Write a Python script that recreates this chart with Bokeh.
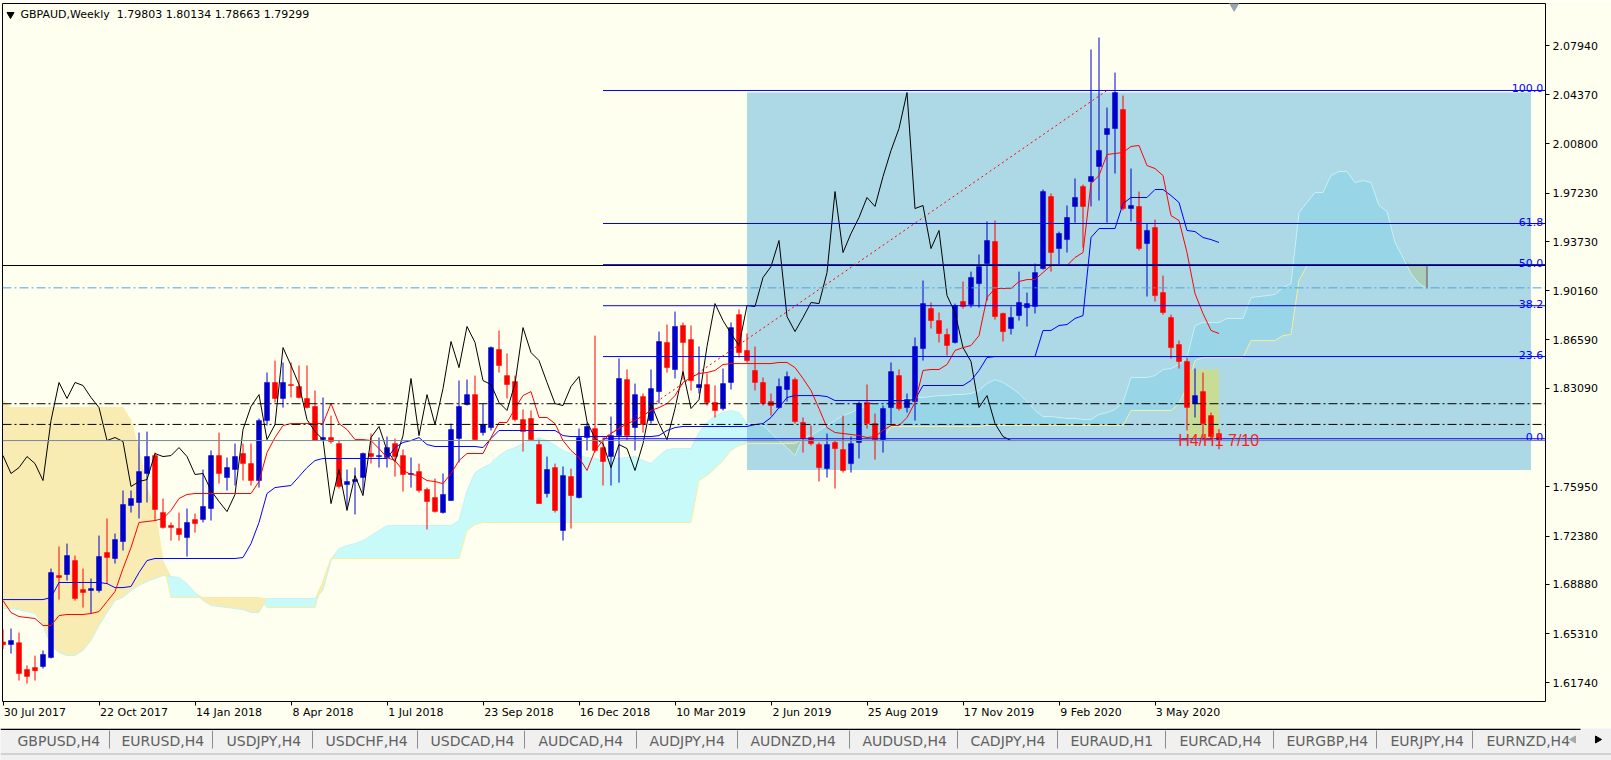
import numpy as np
import pandas as pd
from bokeh.plotting import figure
from bokeh.models import Range1d, LinearAxis, FixedTicker, Label, Span
from bokeh.embed import file_html
from bokeh.resources import INLINE

# ---------------------------------------------------------------- data
SYMBOL_TITLE = "GBPAUD,Weekly\u00a0 1.79803 1.80134 1.78663 1.79299"
FIRST_WEEK = "2017-07-30"

OPEN = [
    1.6470, 1.6451, 1.6465, 1.6270, 1.6284, 1.6292, 1.6357, 1.6951, 1.6959, 1.7060,
    1.6850, 1.6843, 1.6843, 1.7118, 1.7075, 1.7198, 1.7459, 1.7481, 1.7691, 1.7821,
    1.7408, 1.7314, 1.7292, 1.7227, 1.7357, 1.7357, 1.7437, 1.7821, 1.7662, 1.7720,
    1.7836, 1.7763, 1.7640, 1.8075, 1.8351, 1.8235, 1.8336, 1.8322, 1.8235, 1.8177,
    1.7937, 1.7952, 1.7908, 1.7611, 1.7633, 1.7662, 1.7836, 1.7814, 1.7807, 1.7908,
    1.7821, 1.7684, 1.7705, 1.7575, 1.7517, 1.7408, 1.7495, 1.7945, 1.8191, 1.8263,
    1.7988, 1.8024, 1.8590, 1.8401, 1.8358, 1.8082, 1.8090, 1.7901, 1.7546, 1.7734,
    1.7278, 1.7669, 1.7517, 1.7952, 1.8017, 1.7879, 1.7814, 1.7966, 1.8372, 1.8024,
    1.8249, 1.8075, 1.8285, 1.8641, 1.8445, 1.8764, 1.8662, 1.8314, 1.8336, 1.8206,
    1.8162, 1.8351, 1.8843, 1.8583, 1.8438, 1.8351, 1.8213, 1.8169, 1.8300, 1.8372,
    1.8061, 1.7952, 1.7901, 1.7727, 1.7916, 1.7865, 1.7763, 1.7916, 1.8206, 1.8053,
    1.7937, 1.8169, 1.8401, 1.8169, 1.8213, 1.8597, 1.8887, 1.8800, 1.8699, 1.8641,
    1.8938, 1.8916, 1.9068, 1.9213, 1.9373, 1.8851, 1.8742, 1.8836, 1.8894, 1.8902,
    1.9177, 1.9699, 1.9322, 1.9387, 1.9627, 1.9772, 1.9808, 1.9917, 2.0149, 2.0192,
    2.0330, 1.9612, 1.9627, 1.9358, 1.9474, 1.9003, 1.8822, 1.8626, 1.8503, 1.8198,
    1.8285, 1.8111, 1.79803,
]
HIGH = [
    1.6560, 1.6567, 1.6538, 1.6300, 1.6371, 1.6408, 1.7002, 1.7162, 1.7183, 1.7096,
    1.7002, 1.6930, 1.7241, 1.7365, 1.7256, 1.7568, 1.7568, 1.7988, 1.7995, 1.7843,
    1.7510, 1.7336, 1.7408, 1.7437, 1.7401, 1.7720, 1.7858, 1.7988, 1.7807, 1.7908,
    1.7908, 1.7908, 1.8090, 1.8423, 1.8510, 1.8496, 1.8496, 1.8474, 1.8474, 1.8293,
    1.8242, 1.8111, 1.7930, 1.7720, 1.7734, 1.7843, 1.7981, 1.7952, 1.7959, 1.7945,
    1.7865, 1.7807, 1.7763, 1.7589, 1.7655, 1.7691, 1.8053, 1.8365, 1.8372, 1.8401,
    1.8198, 1.8612, 1.8728, 1.8561, 1.8401, 1.8155, 1.8148, 1.7937, 1.7814, 1.7763,
    1.7742, 1.7727, 1.8017, 1.8061, 1.8691, 1.7952, 1.8104, 1.8525, 1.8445, 1.8343,
    1.8271, 1.8445, 1.8720, 1.8771, 1.8865, 1.8786, 1.8764, 1.8612, 1.8416, 1.8329,
    1.8452, 1.8786, 1.8880, 1.8706, 1.8612, 1.8387, 1.8271, 1.8380, 1.8430, 1.8387,
    1.8097, 1.8039, 1.7916, 1.7981, 1.7930, 1.8111, 1.7959, 1.8213, 1.8336, 1.8126,
    1.8184, 1.8496, 1.8445, 1.8271, 1.8677, 1.9090, 1.8931, 1.8858, 1.8742, 1.8923,
    1.9083, 1.9155, 1.9279, 1.9518, 1.9525, 1.8858, 1.8902, 1.9155, 1.9003, 1.9213,
    1.9750, 1.9721, 1.9445, 1.9634, 1.9830, 1.9786, 2.0765, 2.0852, 2.0344, 2.0598,
    2.0431, 1.9902, 1.9735, 1.9503, 1.9532, 1.9126, 1.8843, 1.8655, 1.8532, 1.8452,
    1.8423, 1.8133, 1.80134,
]
LOW = [
    1.6420, 1.6386, 1.6190, 1.6168, 1.6190, 1.6277, 1.6350, 1.6777, 1.6915, 1.6770,
    1.6719, 1.6676, 1.6828, 1.6893, 1.7038, 1.7133, 1.7408, 1.7365, 1.7481, 1.7350,
    1.7292, 1.7205, 1.7205, 1.7089, 1.7263, 1.7336, 1.7350, 1.7618, 1.7568, 1.7604,
    1.7640, 1.7604, 1.7589, 1.8039, 1.8206, 1.8169, 1.8242, 1.8235, 1.8162, 1.7930,
    1.7930, 1.7908, 1.7582, 1.7444, 1.7394, 1.7553, 1.7763, 1.7734, 1.7734, 1.7669,
    1.7560, 1.7589, 1.7553, 1.7285, 1.7408, 1.7401, 1.7495, 1.7771, 1.8184, 1.7930,
    1.7966, 1.8003, 1.8423, 1.8235, 1.8068, 1.7850, 1.7930, 1.7473, 1.7517, 1.7408,
    1.7205, 1.7292, 1.7510, 1.7858, 1.7843, 1.7604, 1.7604, 1.7625, 1.7930, 1.7858,
    1.7988, 1.8053, 1.8198, 1.8423, 1.8380, 1.8372, 1.8293, 1.8271, 1.8184, 1.8097,
    1.8148, 1.8300, 1.8532, 1.8496, 1.8293, 1.8184, 1.8111, 1.8162, 1.8213, 1.8053,
    1.7843, 1.7894, 1.7633, 1.7662, 1.7582, 1.7698, 1.7698, 1.7800, 1.8017, 1.7792,
    1.7843, 1.8053, 1.8148, 1.8133, 1.8075, 1.8510, 1.8742, 1.8641, 1.8546, 1.8633,
    1.8887, 1.8894, 1.8894, 1.8945, 1.8807, 1.8648, 1.8699, 1.8800, 1.8757, 1.8851,
    1.9170, 1.9155, 1.9206, 1.9293, 1.9510, 1.9329, 1.9627, 1.9670, 1.9510, 1.9866,
    1.9598, 1.9518, 1.9308, 1.8974, 1.8938, 1.8843, 1.8525, 1.8452, 1.8003, 1.8097,
    1.7930, 1.7930, 1.78663,
]
CLOSE = [
    1.6450, 1.6480, 1.6241, 1.6220, 1.6262, 1.6379, 1.6973, 1.6937, 1.7096, 1.6785,
    1.6828, 1.6857, 1.7089, 1.7082, 1.7212, 1.7466, 1.7510, 1.7705, 1.7814, 1.7430,
    1.7299, 1.7299, 1.7249, 1.7336, 1.7328, 1.7452, 1.7821, 1.7691, 1.7734, 1.7814,
    1.7763, 1.7640, 1.8075, 1.8351, 1.8235, 1.8351, 1.8329, 1.8242, 1.8169, 1.7930,
    1.7952, 1.7923, 1.7597, 1.7633, 1.7647, 1.7836, 1.7814, 1.7821, 1.7879, 1.7814,
    1.7684, 1.7691, 1.7568, 1.7488, 1.7415, 1.7539, 1.8010, 1.8177, 1.8263, 1.7937,
    1.8046, 1.8604, 1.8474, 1.8336, 1.8082, 1.7995, 1.7937, 1.7473, 1.7720, 1.7423,
    1.7676, 1.7531, 1.7952, 1.8032, 1.7858, 1.7778, 1.7966, 1.8380, 1.7966, 1.8263,
    1.8046, 1.8307, 1.8648, 1.8459, 1.8757, 1.8641, 1.8365, 1.8336, 1.8206, 1.8148,
    1.8343, 1.8749, 1.8568, 1.8510, 1.8351, 1.8198, 1.8184, 1.8322, 1.8394, 1.8068,
    1.7945, 1.7908, 1.7734, 1.7901, 1.7872, 1.7713, 1.7908, 1.8198, 1.8053, 1.7937,
    1.8162, 1.8430, 1.8162, 1.8227, 1.8612, 1.8923, 1.8800, 1.8706, 1.8619, 1.8909,
    1.8902, 1.9112, 1.9191, 1.9380, 1.8829, 1.8720, 1.8822, 1.8931, 1.8923, 1.9148,
    1.9735, 1.9293, 1.9431, 1.9547, 1.9692, 1.9627, 1.9844, 2.0033, 2.0192, 2.0453,
    1.9612, 1.9634, 1.9322, 1.9453, 1.8981, 1.8858, 1.8604, 1.8503, 1.8170, 1.8256,
    1.8053, 1.7959, 1.79299,
]
TENKAN = [
    1.6770, 1.6683, 1.6654, 1.6647, 1.6640, 1.6589, 1.6589, 1.6661, 1.6669, 1.6669,
    1.6669, 1.6676, 1.6690, 1.6763, 1.6835, 1.7002, 1.7154, 1.7336, 1.7343, 1.7350,
    1.7365, 1.7423, 1.7510, 1.7539, 1.7546, 1.7546, 1.7546, 1.7546, 1.7546, 1.7546,
    1.7546, 1.7546, 1.7633, 1.7843, 1.7952, 1.8039, 1.8053, 1.8053, 1.8053, 1.8053,
    1.8053, 1.8198, 1.8053, 1.8010, 1.7937, 1.7937, 1.7930, 1.7872, 1.7807, 1.7785,
    1.7713, 1.7684, 1.7676, 1.7640, 1.7633, 1.7618, 1.7691, 1.7785, 1.7836, 1.7836,
    1.7836, 1.7952, 1.8061, 1.8061, 1.8162, 1.8256, 1.8285, 1.8097, 1.8097, 1.8053,
    1.7930, 1.7858, 1.7807, 1.7713, 1.7858, 1.7930, 1.7981, 1.8017, 1.8053, 1.8075,
    1.8111, 1.8148, 1.8169, 1.8198, 1.8256, 1.8351, 1.8387, 1.8416, 1.8423, 1.8438,
    1.8481, 1.8488, 1.8488, 1.8488, 1.8488, 1.8488, 1.8488, 1.8496, 1.8496, 1.8459,
    1.8380, 1.8293, 1.8162, 1.8024, 1.7988, 1.7981, 1.7974, 1.7966, 1.7952, 1.7959,
    1.8003, 1.8039, 1.8039, 1.8097, 1.8206, 1.8438, 1.8445, 1.8445, 1.8481, 1.8583,
    1.8604, 1.8619, 1.8691, 1.8967, 1.9032, 1.9032, 1.9032, 1.9083, 1.9097, 1.9097,
    1.9148, 1.9199, 1.9199, 1.9199, 1.9257, 1.9293, 1.9793, 1.9851, 2.0004, 2.0011,
    2.0018, 2.0062, 2.0069, 1.9924, 1.9902, 1.9851, 1.9561, 1.9525, 1.9293, 1.8996,
    1.8851, 1.8728, 1.8706,
]
KIJUN = [
    1.6777, 1.6777, 1.6777, 1.6777, 1.6777, 1.6777, 1.6792, 1.6901, 1.6901, 1.6901,
    1.6901, 1.6901, 1.6901, 1.6893, 1.6864, 1.6864, 1.6872, 1.6973, 1.7060, 1.7075,
    1.7075, 1.7075, 1.7075, 1.7075, 1.7075, 1.7075, 1.7075, 1.7075, 1.7075, 1.7075,
    1.7082, 1.7183, 1.7336, 1.7546, 1.7589, 1.7597, 1.7604, 1.7669, 1.7734, 1.7785,
    1.7800, 1.7800, 1.7800, 1.7800, 1.7800, 1.7800, 1.7800, 1.7800, 1.7800, 1.7879,
    1.7916, 1.7930, 1.7952, 1.7901, 1.7887, 1.7887, 1.7887, 1.7887, 1.7887, 1.7887,
    1.7879, 1.7945, 1.8003, 1.8003, 1.8003, 1.8003, 1.8003, 1.8003, 1.8003, 1.8003,
    1.7966, 1.7959, 1.7959, 1.7959, 1.7959, 1.7959, 1.7959, 1.7959, 1.7959, 1.7959,
    1.7959, 1.7959, 1.7966, 1.8003, 1.8024, 1.8032, 1.8032, 1.8032, 1.8032, 1.8032,
    1.8032, 1.8032, 1.8032, 1.8032, 1.8046, 1.8053, 1.8097, 1.8169, 1.8242, 1.8256,
    1.8256, 1.8256, 1.8256, 1.8249, 1.8220, 1.8220, 1.8220, 1.8220, 1.8220, 1.8220,
    1.8220, 1.8220, 1.8220, 1.8220, 1.8228, 1.8329, 1.8329, 1.8329, 1.8329, 1.8329,
    1.8329, 1.8365, 1.8438, 1.8532, 1.8539, 1.8539, 1.8539, 1.8539, 1.8539, 1.8539,
    1.8728, 1.8728, 1.8764, 1.8771, 1.8815, 1.8836, 1.9402, 1.9467, 1.9467, 1.9467,
    1.9648, 1.9692, 1.9692, 1.9692, 1.9750, 1.9750, 1.9706, 1.9656, 1.9453, 1.9445,
    1.9402, 1.9387, 1.9366,
]
# Senkou spans, already displaced 26 weeks forward (index = bar on the chart)
SPAN_A = [
    1.6712, 1.6712, 1.6705, 1.6690, 1.6676, 1.6589, 1.6444, 1.6393, 1.6371, 1.6371,
    1.6408, 1.6480, 1.6589, 1.6683, 1.6770, 1.6792, 1.6843, 1.6879, 1.6908, 1.6930,
    1.6951, 1.6944, 1.6937, 1.6893, 1.6828, 1.6770, 1.6734, 1.6727, 1.6719, 1.6712,
    1.6705, 1.6683, 1.6683, 1.6785, 1.6785, 1.6785, 1.6785, 1.6785, 1.6785, 1.6785,
    1.6843, 1.7060, 1.7147, 1.7168, 1.7183, 1.7205, 1.7241, 1.7278, 1.7314, 1.7314,
    1.7314, 1.7314, 1.7314, 1.7314, 1.7314, 1.7314, 1.7314, 1.7350, 1.7568, 1.7698,
    1.7734, 1.7763, 1.7821, 1.7858, 1.7879, 1.7908, 1.7930, 1.7952, 1.7930, 1.7894,
    1.7858, 1.7836, 1.7821, 1.7807, 1.7800, 1.7785, 1.7807, 1.7800, 1.7807, 1.7814,
    1.7785, 1.7763, 1.7821, 1.7865, 1.7872, 1.7872, 1.7872, 1.7988, 1.8061, 1.8111,
    1.8133, 1.8148, 1.8133, 1.8053, 1.8053, 1.8039, 1.7988, 1.7930, 1.7879, 1.7821,
    1.7952, 1.7966, 1.8003, 1.8039, 1.8075, 1.8111, 1.8133, 1.8162, 1.8184, 1.8206,
    1.8220, 1.8220, 1.8228, 1.8235, 1.8242, 1.8242, 1.8249, 1.8256, 1.8256, 1.8264,
    1.8264, 1.8271, 1.8293, 1.8343, 1.8372, 1.8351, 1.8314, 1.8271, 1.8213, 1.8148,
    1.8104, 1.8104, 1.8097, 1.8090, 1.8090, 1.8083, 1.8083, 1.8119, 1.8133, 1.8155,
    1.8206, 1.8387, 1.8387, 1.8387, 1.8401, 1.8445, 1.8452, 1.8481, 1.8532, 1.8764,
    1.8786, 1.8786, 1.8786, 1.8815, 1.8815, 1.8815, 1.8967, 1.8974, 1.8981, 1.8989,
    1.9039, 1.9068, 1.9583, 1.9656, 1.9728, 1.9728, 1.9851, 1.9880, 1.9880, 1.9801,
    1.9815, 1.9801, 1.9634, 1.9590, 1.9366, 1.9257, 1.9141, 1.9068, 1.9032,
]
SPAN_B = [
    1.8220, 1.8169, 1.8169, 1.8169, 1.8169, 1.8169, 1.8169, 1.8169, 1.8169, 1.8169,
    1.8169, 1.8169, 1.8169, 1.8169, 1.8169, 1.8169, 1.8075, 1.7858, 1.7589, 1.7423,
    1.7060, 1.6792, 1.6792, 1.6792, 1.6792, 1.6792, 1.6792, 1.6792, 1.6792, 1.6792,
    1.6792, 1.6792, 1.6792, 1.6719, 1.6719, 1.6719, 1.6719, 1.6719, 1.6719, 1.6719,
    1.6915, 1.7075, 1.7075, 1.7075, 1.7075, 1.7075, 1.7075, 1.7075, 1.7075, 1.7075,
    1.7075, 1.7075, 1.7075, 1.7075, 1.7075, 1.7075, 1.7075, 1.7075, 1.7278, 1.7321,
    1.7336, 1.7336, 1.7336, 1.7336, 1.7336, 1.7336, 1.7336, 1.7336, 1.7336, 1.7336,
    1.7336, 1.7336, 1.7336, 1.7336, 1.7336, 1.7336, 1.7336, 1.7336, 1.7336, 1.7336,
    1.7336, 1.7336, 1.7336, 1.7336, 1.7336, 1.7336, 1.7336, 1.7640, 1.7676, 1.7727,
    1.7785, 1.7858, 1.7894, 1.7908, 1.7908, 1.7908, 1.7908, 1.7908, 1.7908, 1.7908,
    1.7945, 1.7945, 1.7945, 1.7945, 1.7945, 1.7945, 1.7945, 1.7945, 1.7945, 1.7945,
    1.7945, 1.8032, 1.8032, 1.8032, 1.8032, 1.8032, 1.8032, 1.8032, 1.8032, 1.8032,
    1.8032, 1.8032, 1.8032, 1.8039, 1.8039, 1.8039, 1.8039, 1.8039, 1.8039, 1.8039,
    1.8039, 1.8039, 1.8039, 1.8039, 1.8039, 1.8039, 1.8039, 1.8039, 1.8039, 1.8039,
    1.8039, 1.8148, 1.8148, 1.8148, 1.8148, 1.8148, 1.8148, 1.8198, 1.8322, 1.8510,
    1.8532, 1.8532, 1.8532, 1.8532, 1.8532, 1.8532, 1.8655, 1.8655, 1.8655, 1.8655,
    1.8691, 1.8699, 1.9090, 1.9199, 1.9199, 1.9199, 1.9199, 1.9199, 1.9199, 1.9199,
    1.9199, 1.9199, 1.9199, 1.9199, 1.9199, 1.9199, 1.9199, 1.9199, 1.9199,
]
CHIKOU_SHIFT = 26

DATE_LABELS = ["30 Jul 2017", "22 Oct 2017", "14 Jan 2018", "8 Apr 2018", "1 Jul 2018",
               "23 Sep 2018", "16 Dec 2018", "10 Mar 2019", "2 Jun 2019", "25 Aug 2019",
               "17 Nov 2019", "9 Feb 2020", "3 May 2020"]
PRICE_TICKS = [2.07940, 2.04370, 2.00800, 1.97230, 1.93730, 1.90160, 1.86590,
               1.83090, 1.75950, 1.72380, 1.68880, 1.65310, 1.61740]
BID = 1.79299

FIB_LOW, FIB_HIGH = 1.7943, 2.0468
FIB_BARS = [75, 138]
FIB_LEVELS = [0.0, 23.6, 38.2, 50.0, 61.8, 100.0]

# horizontal line objects: price, colour, dash
HLINES = [
    (1.9199, "#000000", "solid"),
    (1.9037, "#4BA6DD", "9 3 2 3"),
    (1.8197, "#000000", "9 3 2 3"),
    (1.8047, "#000000", "9 3 2 3"),
]
ZONE = dict(left=93, right=191, bottom=1.7716, top=2.0453)     # big rectangle object
SIGNAL_BOX = dict(left=148, right=152, bottom=1.7937, top=1.8445)
SIGNAL_TEXT = "H4/H1 7/10"
SIGNAL_TEXT_POS = (146.9, 1.7930)
SHIFT_MARK_BAR = 153.9        # MT4 chart-shift marker on the top edge

TABS = ["GBPUSD,H4", "EURUSD,H4", "USDJPY,H4", "USDCHF,H4", "USDCAD,H4", "AUDCAD,H4",
        "AUDJPY,H4", "AUDNZD,H4", "AUDUSD,H4", "CADJPY,H4", "EURAUD,H1", "EURCAD,H4",
        "EURGBP,H4", "EURJPY,H4", "EURNZD,H4"]

# ---------------------------------------------------------------- style / layout
IVORY = "#FFFFF0"
UP_COL, DN_COL = "#0000CD", "#FF0000"
CLOUD_UP, CLOUD_DN = "#C8FAFA", "#F9ECB2"
CLOUD_UP_Z, CLOUD_DN_Z = "#98D5E6", "#A9CDB8"
ZONE_COL, SIGNAL_COL = "#ADD8E6", "#C9DC96"
FIB_COL = "#0000FF"
FONT = "DejaVu Sans"

W_FIG, H_MAIN, H_TABS = 1611, 728, 32
X_RANGE = (-0.0625, 192.8125)      # 8 px per weekly bar
Y_RANGE = (1.60382, 2.10985)
PX_PER_BAR = 8.0
PX_PER_PRICE = 1379.4

n = len(CLOSE)
x = np.arange(n)
o, h, l, c = (np.array(a) for a in (OPEN, HIGH, LOW, CLOSE))
up = c >= o
col = np.where(up, UP_COL, DN_COL)

weeks = pd.date_range(FIRST_WEEK, periods=n, freq="7D")
week_names = [f"{d.day} {d.strftime('%b %Y')}" for d in weeks]
tick_bars = [week_names.index(s) for s in DATE_LABELS]

p = figure(width=W_FIG, height=H_MAIN, output_backend="svg", toolbar_location=None,
           x_range=Range1d(*X_RANGE), y_range=Range1d(*Y_RANGE),
           x_axis_location=None, y_axis_location="right",
           min_border_left=2, min_border_top=3, min_border_right=66,
           min_border_bottom=27,
           background_fill_color=IVORY, border_fill_color=IVORY,
           outline_line_color="black", outline_line_width=1)
p.grid.visible = False

# background rectangle objects
p.quad(left=[ZONE["left"]], right=[ZONE["right"]], bottom=[ZONE["bottom"]], top=[ZONE["top"]],
       fill_color=ZONE_COL, line_color=None)

# Ichimoku cloud
A = np.array(SPAN_A)
B = np.array(SPAN_B)
xc = np.arange(len(A))
upper = np.maximum(A, B)
for mask, cu, cd in [(xc <= ZONE["left"], CLOUD_UP, CLOUD_DN),
                     (xc >= ZONE["left"], CLOUD_UP_Z, CLOUD_DN_Z)]:
    p.varea(x=xc[mask], y1=B[mask], y2=upper[mask], fill_color=cu, fill_alpha=1)
    p.varea(x=xc[mask], y1=A[mask], y2=upper[mask], fill_color=cd, fill_alpha=1)
p.line(xc, A, line_color="#C4F2F6", line_width=1)
p.line(xc, B, line_color="#F6EEA0", line_width=1)
p.segment(x0=[xc[-1]], x1=[xc[-1]], y0=[A[-1]], y1=[B[-1]], line_color="#6F3F66", line_width=1)

p.quad(left=[SIGNAL_BOX["left"]], right=[SIGNAL_BOX["right"]], bottom=[SIGNAL_BOX["bottom"]],
       top=[SIGNAL_BOX["top"]], fill_color=SIGNAL_COL, line_color=None)

# candles
p.segment(x0=x, x1=x, y0=l, y1=h, line_color=col, line_width=1)
p.vbar(x=x, width=5 / PX_PER_BAR, top=np.maximum(o, c), bottom=np.minimum(o, c),
       fill_color=col, line_color=col, line_width=0.5)

# Ichimoku lines
p.line(x[: n - CHIKOU_SHIFT], c[CHIKOU_SHIFT:], line_color="black", line_width=1)
p.line(x, KIJUN, line_color="#0000FF", line_width=1)
p.line(x, TENKAN, line_color="#FF0000", line_width=1)

# horizontal line objects
for price, lc, dash in HLINES:
    p.add_layout(Span(location=price, dimension="width", line_color=lc,
                      line_dash=dash, line_width=1))

# Fibonacci retracement
fib_prices = [FIB_LOW + (FIB_HIGH - FIB_LOW) * lv / 100 for lv in FIB_LEVELS]
p.segment(x0=[FIB_BARS[0]] * len(fib_prices), x1=[X_RANGE[1]] * len(fib_prices),
          y0=fib_prices, y1=fib_prices, line_color=FIB_COL, line_width=1)
p.line(FIB_BARS, [FIB_LOW, FIB_HIGH], line_color="#FF0000", line_dash="2 3", line_width=1)
for lv, pr in zip(FIB_LEVELS, fib_prices):
    p.add_layout(Label(x=X_RANGE[1] - 0.28, y=pr, text=f"{lv:.1f}", text_align="right",
                       text_baseline="alphabetic", y_offset=2, text_color=FIB_COL,
                       text_font=FONT, text_font_size="11px"))

# bid line
p.add_layout(Span(location=BID, dimension="width", line_color="#778899", line_width=1))

# signal text
p.add_layout(Label(x=SIGNAL_TEXT_POS[0], y=SIGNAL_TEXT_POS[1], text=SIGNAL_TEXT,
                   text_color="#FF2020", text_font="Liberation Sans", text_font_size="16px",
                   text_baseline="middle"))

# title inside chart (11 px below the top of the window)
title_y = Y_RANGE[1] - 11 / PX_PER_PRICE
p.scatter([0.9375], [title_y], marker="inverted_triangle", size=7,
          fill_color="black", line_color="black")
p.add_layout(Label(x=2.1875, y=title_y, text=SYMBOL_TITLE, text_font=FONT,
                   text_font_size="11px", text_baseline="middle", text_color="black"))
p.scatter([SHIFT_MARK_BAR], [Y_RANGE[1] - 2 / PX_PER_PRICE], marker="inverted_triangle",
          size=10, fill_color="#9AA3AD", line_color="#9AA3AD")

# price axis (right)
ya = p.yaxis[0]
ya.ticker = FixedTicker(ticks=PRICE_TICKS)
ya.major_label_overrides = {t: f"{t:.5f}" for t in PRICE_TICKS}
ya.major_tick_out = 4
ya.major_tick_in = 0
ya.minor_tick_line_color = None
ya.axis_line_color = None
ya.major_label_standoff = 3
ya.major_label_text_font = FONT
ya.major_label_text_font_size = "11px"
ya.major_label_text_color = "black"

p.add_layout(Label(x=X_RANGE[1], y=BID, x_offset=7, text=f"{BID:.5f}", text_color="white",
                   text_font=FONT, text_font_size="11px", text_baseline="middle",
                   background_fill_color="black",
                   padding=dict(left=5, right=6, top=0, bottom=0)))

# time axis: tick marks at the week, label starting at the tick (MT4 style)
GLYPH_W = {**{d: 1303 for d in "0123456789"}, " ": 651, "J": 604, "u": 1298, "l": 569,
           "O": 1612, "c": 1126, "t": 803, "a": 1255, "n": 1298, "A": 1401, "p": 1300,
           "r": 842, "S": 1300, "e": 1260, "D": 1577, "M": 1767, "y": 1212, "g": 1300,
           "N": 1532, "o": 1253, "v": 1212, "F": 1178, "b": 1300}


def text_px(s, size=11):
    return sum(GLYPH_W.get(ch, 1250) for ch in s) / 2048 * size


tick_axis = LinearAxis(ticker=FixedTicker(ticks=tick_bars),
                       major_label_overrides={t: "" for t in tick_bars},
                       major_label_text_font_size="1px", major_label_standoff=0,
                       major_tick_out=4, major_tick_in=0, axis_line_color=None,
                       minor_tick_line_color=None)
label_ticks, label_over = [], {}
for b, s in zip(tick_bars, DATE_LABELS):
    t = b + round((text_px(s) / 2 + 1.0) / PX_PER_BAR * 8) / 8
    label_ticks.append(t)
    label_over[t] = s
label_axis = LinearAxis(ticker=FixedTicker(ticks=label_ticks), major_label_overrides=label_over,
                        major_tick_line_color=None, minor_tick_line_color=None,
                        axis_line_color=None, major_label_standoff=-6,
                        major_label_text_font=FONT, major_label_text_font_size="11px",
                        major_label_text_color="black")
p.add_layout(tick_axis, "below")
p.add_layout(label_axis, "below")

# ---------------------------------------------------------------- symbol tabs strip
# separate root below the chart, data x == page x
TAB_TEXT_X = [17, 121, 226, 325, 430, 538, 649, 750, 862, 970, 1070, 1179, 1286, 1390, 1486]
TAB_SEP_X = [109, 212, 312, 417, 524, 636, 737, 849, 957, 1057, 1165, 1273, 1376, 1472]
tb = figure(width=W_FIG, height=H_TABS, output_backend="svg", toolbar_location=None,
            x_range=Range1d(0, W_FIG), y_range=Range1d(0, H_TABS),
            x_axis_location=None, y_axis_location=None, min_border=0,
            background_fill_color="#F0F0F0", border_fill_color="#F0F0F0",
            outline_line_color=None)
tb.grid.visible = False
tb.segment(x0=[0], x1=[1580], y0=[31.2], y1=[31.2], line_color="black", line_width=1.5)
tb.segment(x0=[0], x1=[W_FIG], y0=[6.5], y1=[6.5], line_color="#B4B4B4", line_width=1)
tb.segment(x0=TAB_SEP_X, x1=TAB_SEP_X,
           y0=[12] * len(TAB_SEP_X), y1=[30] * len(TAB_SEP_X), line_color="#8C8C8C",
           line_width=1)
for name, tx in zip(TABS, TAB_TEXT_X):
    tb.add_layout(Label(x=tx, y=20, text=name, text_font=FONT, text_font_size="14px",
                        text_color="#606060", text_baseline="middle"))
tb.quad(left=[1566], right=[W_FIG], bottom=[8], top=[30], fill_color="#F0F0F0", line_color=None)
tb.scatter([1573], [21], marker="triangle", angle=np.pi / 2, size=7,
           fill_color="#A8A8A8", line_color="#A8A8A8")
tb.scatter([1597], [21], marker="triangle", angle=-np.pi / 2, size=7,
           fill_color="black", line_color="black")

with open("out.html", "w") as f:
    f.write(file_html([p, tb], INLINE, title="GBPAUD,Weekly"))
